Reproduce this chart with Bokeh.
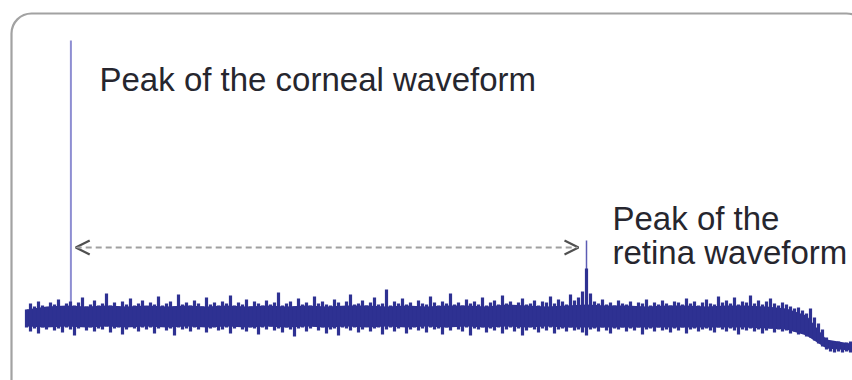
from bokeh.plotting import figure
from bokeh.models import Range1d, BoxAnnotation, Arrow, OpenHead, ColumnDataSource
from bokeh.core.properties import value
from bokeh.embed import file_html
from bokeh.resources import INLINE

# ---- data (column index ~ sample bins, amplitude in arbitrary units) ----
# per-bin maximum and minimum of the trace
upper = [
    6, 12, 9, 14, 10, 8, 13, 11, 16, 9,
    12, 14, 10, 13, 18, 9, 11, 15, 10, 12,
    22, 10, 13, 9, 14, 11, 17, 10, 12, 15,
    9, 13, 11, 19, 10, 12, 14, 9, 21, 11,
    13, 10, 15, 12, 9, 18, 11, 13, 10, 14,
    12, 20, 10, 13, 11, 16, 9, 14, 12, 10,
    15, 11, 13, 23, 10, 12, 14, 9, 17, 11,
    13, 10, 19, 12, 14, 11, 10, 16, 13, 9,
    14, 21, 11, 12, 15, 10, 13, 18, 11, 12,
    26, 10, 14, 12, 17, 11, 13, 9, 15, 12,
    11, 19, 13, 10, 14, 12, 22, 11, 13, 10,
    16, 12, 14, 11, 18, 10, 13, 15, 11, 20,
    12, 14, 10, 13, 17, 11, 12, 15, 10, 14,
    13, 19, 12, 16, 14, 11, 21, 15, 18, 24,
    47, 22, 14, 12, 16, 11, 13, 10, 15, 12,
    11, 14, 9, 13, 12, 16, 10, 13, 11, 15,
    12, 10, 14, 13, 11, 17, 12, 14, 10, 13,
    16, 12, 11, 19, 13, 15, 12, 18, 11, 14,
    13, 20, 12, 15, 11, 14, 17, 12, 10, 13,
    11, 9, 7, 8, 5, 2, 7, -2, -8, -14,
    -22, -26, -27, -26, -28, -27, -26,
]
lower = [
    -12, -16, -13, -18, -12, -14, -11, -15, -13, -17,
    -12, -14, -20, -13, -11, -15, -12, -16, -13, -14,
    -11, -17, -13, -12, -19, -14, -11, -13, -16, -12,
    -14, -12, -18, -13, -11, -15, -13, -20, -12, -14,
    -13, -16, -12, -14, -11, -17, -13, -12, -15, -14,
    -12, -18, -13, -11, -14, -16, -12, -13, -19, -12,
    -14, -11, -15, -13, -17, -12, -14, -21, -13, -12,
    -16, -13, -11, -15, -12, -18, -14, -13, -20, -12,
    -13, -15, -12, -17, -14, -11, -16, -13, -12, -19,
    -14, -12, -16, -13, -11, -18, -14, -12, -15, -13,
    -17, -12, -14, -13, -19, -12, -15, -11, -14, -16,
    -12, -20, -13, -14, -12, -17, -13, -15, -12, -18,
    -14, -12, -16, -13, -20, -15, -12, -14, -17, -13,
    -15, -12, -18, -14, -13, -16, -12, -15, -14, -17,
    -20, -14, -13, -16, -12, -15, -18, -13, -14, -12,
    -16, -13, -15, -12, -19, -14, -13, -16, -12, -15,
    -14, -17, -13, -15, -12, -18, -14, -13, -16, -14,
    -13, -15, -17, -12, -14, -16, -13, -15, -19, -14,
    -15, -13, -16, -14, -18, -15, -13, -17, -14, -16,
    -15, -18, -16, -19, -18, -21, -22, -25, -28, -31,
    -34, -36, -37, -36, -37, -36, -37,
]
# dense core of the trace, every 5 bins
core_pos = [0, 5, 10, 15, 20, 25, 30, 35, 40, 45, 50, 55, 60, 65, 70, 75, 80, 85, 90, 95,
            100, 105, 110, 115, 120, 125, 130, 135, 140, 145, 150, 155, 160, 165, 170, 175,
            180, 185, 190, 195, 200, 206]
core_top = [6, 9, 10, 9, 10, 9, 10, 9, 10, 9, 10, 9, 10, 9, 10, 9, 10, 10, 9, 10,
            9, 10, 10, 9, 11, 10, 9, 10, 11, 10, 10, 9, 10, 10, 9, 10,
            10, 9, 7, 0, -24, -28]
core_bottom = [-11, -12, -11, -12, -11, -12, -11, -12, -11, -12, -11, -12, -11, -12, -11, -12, -11, -12, -11, -12,
               -11, -12, -11, -12, -11, -12, -11, -12, -12, -12, -12, -12, -12, -12, -12, -12,
               -12, -13, -14, -20, -33, -35]
peak_pos = [11.1, 140.0]
peak_amp = [275, 75]
peak_labels = ["Peak of the corneal waveform", "Peak of the", "retina waveform"]
label_x = [18.25, 146.5, 146.5]
label_y = [236, 97, 63.5]

idx = list(range(len(upper)))
NAVY = "#2e3192"

p = figure(width=852, height=380, output_backend="svg", toolbar_location=None,
           x_range=Range1d(-6.5, 206.5), y_range=Range1d(-65, 315),
           x_axis_location=None, y_axis_location=None, min_border=0)
p.grid.visible = False
p.outline_line_color = None
p.background_fill_color = "white"
p.border_fill_color = "white"

# rounded frame
p.add_layout(BoxAnnotation(left=-3.75, right=210, top=302, bottom=-120,
                           fill_alpha=0, line_color="#a2a2a2", line_alpha=1.0,
                           line_width=2.2, border_radius=20))

# peaks
p.segment(x0=[peak_pos[0]], y0=[0], x1=[peak_pos[0]], y1=[peak_amp[0]],
          line_color="#8e8ed2", line_width=2)
p.segment(x0=[peak_pos[1]], y0=[0], x1=[peak_pos[1]], y1=[peak_amp[1]],
          line_color="#5c5cb4", line_width=1.5)

# waveform: dense core + per-bin min/max excursions
p.varea(x=core_pos, y1=core_bottom, y2=core_top, fill_color=NAVY)
p.vbar(x=idx, bottom=lower, top=upper, width=0.8, fill_color=NAVY,
       line_color=None)

# dashed interval arrow between the two peaks
arrow_y = 68
p.add_layout(Arrow(x_start=peak_pos[0] + 1.2, y_start=arrow_y,
                   x_end=peak_pos[1] - 2.0, y_end=arrow_y,
                   line_color="#a0a0a0", line_width=2, line_dash="6 4",
                   start=OpenHead(size=14, line_color="#505050", line_width=2.2),
                   end=OpenHead(size=14, line_color="#505050", line_width=2.2)))

# labels
src = ColumnDataSource(dict(x=label_x, y=label_y, t=peak_labels))
p.text(x="x", y="y", text="t", source=src, text_font=value("Liberation Sans"),
       text_font_size="33px", text_color="#26262e", text_baseline="alphabetic",
       text_align="left")

open("out.html", "w").write(file_html(p, INLINE))
